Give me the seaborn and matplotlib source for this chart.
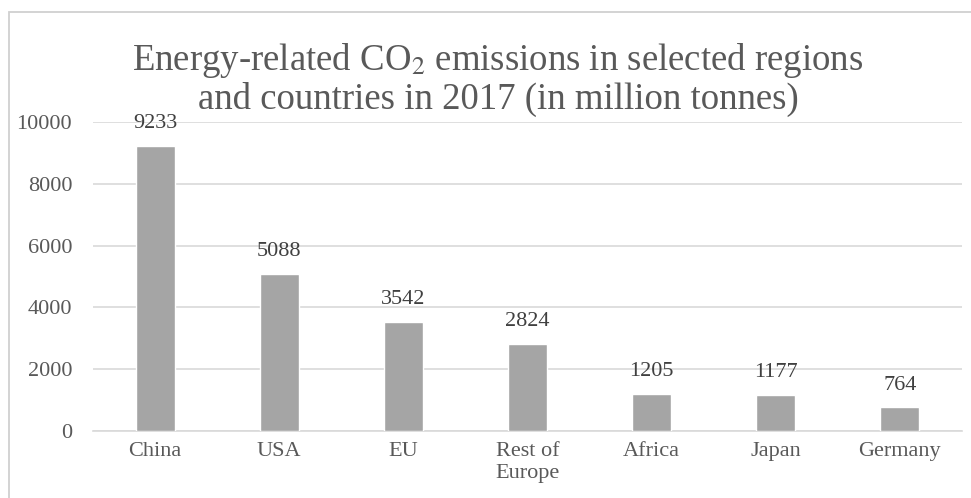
import matplotlib
matplotlib.use("Agg")
import matplotlib.pyplot as plt
import seaborn as sns
import pandas as pd
from matplotlib.patches import Rectangle

categories = ["China", "USA", "EU", "Rest of\nEurope", "Africa", "Japan", "Germany"]
values = [9233, 5088, 3542, 2824, 1205, 1177, 764]
yticks = [0, 2000, 4000, 6000, 8000, 10000]
title_lines = ["Energy-related CO$_2$ emissions in selected regions",
               "and countries in 2017 (in million tonnes)"]

sns.set_theme(style="white")
plt.rcParams['font.family'] = ['Liberation Serif', 'DejaVu Serif']

df = pd.DataFrame({"region": categories, "emissions": values})

W, H = 971, 498
fig = plt.figure(figsize=(W / 100, H / 100), dpi=100)
ax = fig.add_axes([93 / W, 1 - 431 / H, (962 - 93) / W, (431 - 122) / H])

sns.barplot(data=df, x="region", y="emissions", color="#A5A5A5", width=0.315,
            saturation=1, ax=ax, zorder=3)

ax.set_ylim(0, 10000)
ax.set_yticks(yticks)
ax.set_yticklabels([str(v) for v in yticks])
ax.set_xlabel("")
ax.set_ylabel("")
ax.yaxis.grid(True, color="#D9D9D9", linewidth=1.2, zorder=0)
ax.xaxis.grid(False)
for s in ["top", "right", "left"]:
    ax.spines[s].set_visible(False)
ax.spines["bottom"].set_color("#D9D9D9")
ax.spines["bottom"].set_linewidth(1.2)
ax.tick_params(axis="y", length=0, pad=15, labelsize=16, labelcolor="#595959")
ax.tick_params(axis="x", length=0, pad=8, labelsize=16, labelcolor="#595959")

for i, v in enumerate(values):
    ax.annotate(str(v), (i, v), xytext=(0, 9), textcoords="offset points",
                ha="center", va="bottom", fontsize=16, color="#404040")

for k, (line, base) in enumerate(zip(title_lines, [70, 109])):
    fig.text(498 / W, 1 - base / H, line, ha="center", va="baseline", fontsize=26.5,
             color="#595959", math_fontfamily="stix")

fig.patches.append(Rectangle((9 / W, -0.1), 1.2, 1 - 12 / H + 0.1, transform=fig.transFigure,
                             fill=False, edgecolor="#D0D0D0", linewidth=1.3))

fig.savefig("out.png", dpi=100)
